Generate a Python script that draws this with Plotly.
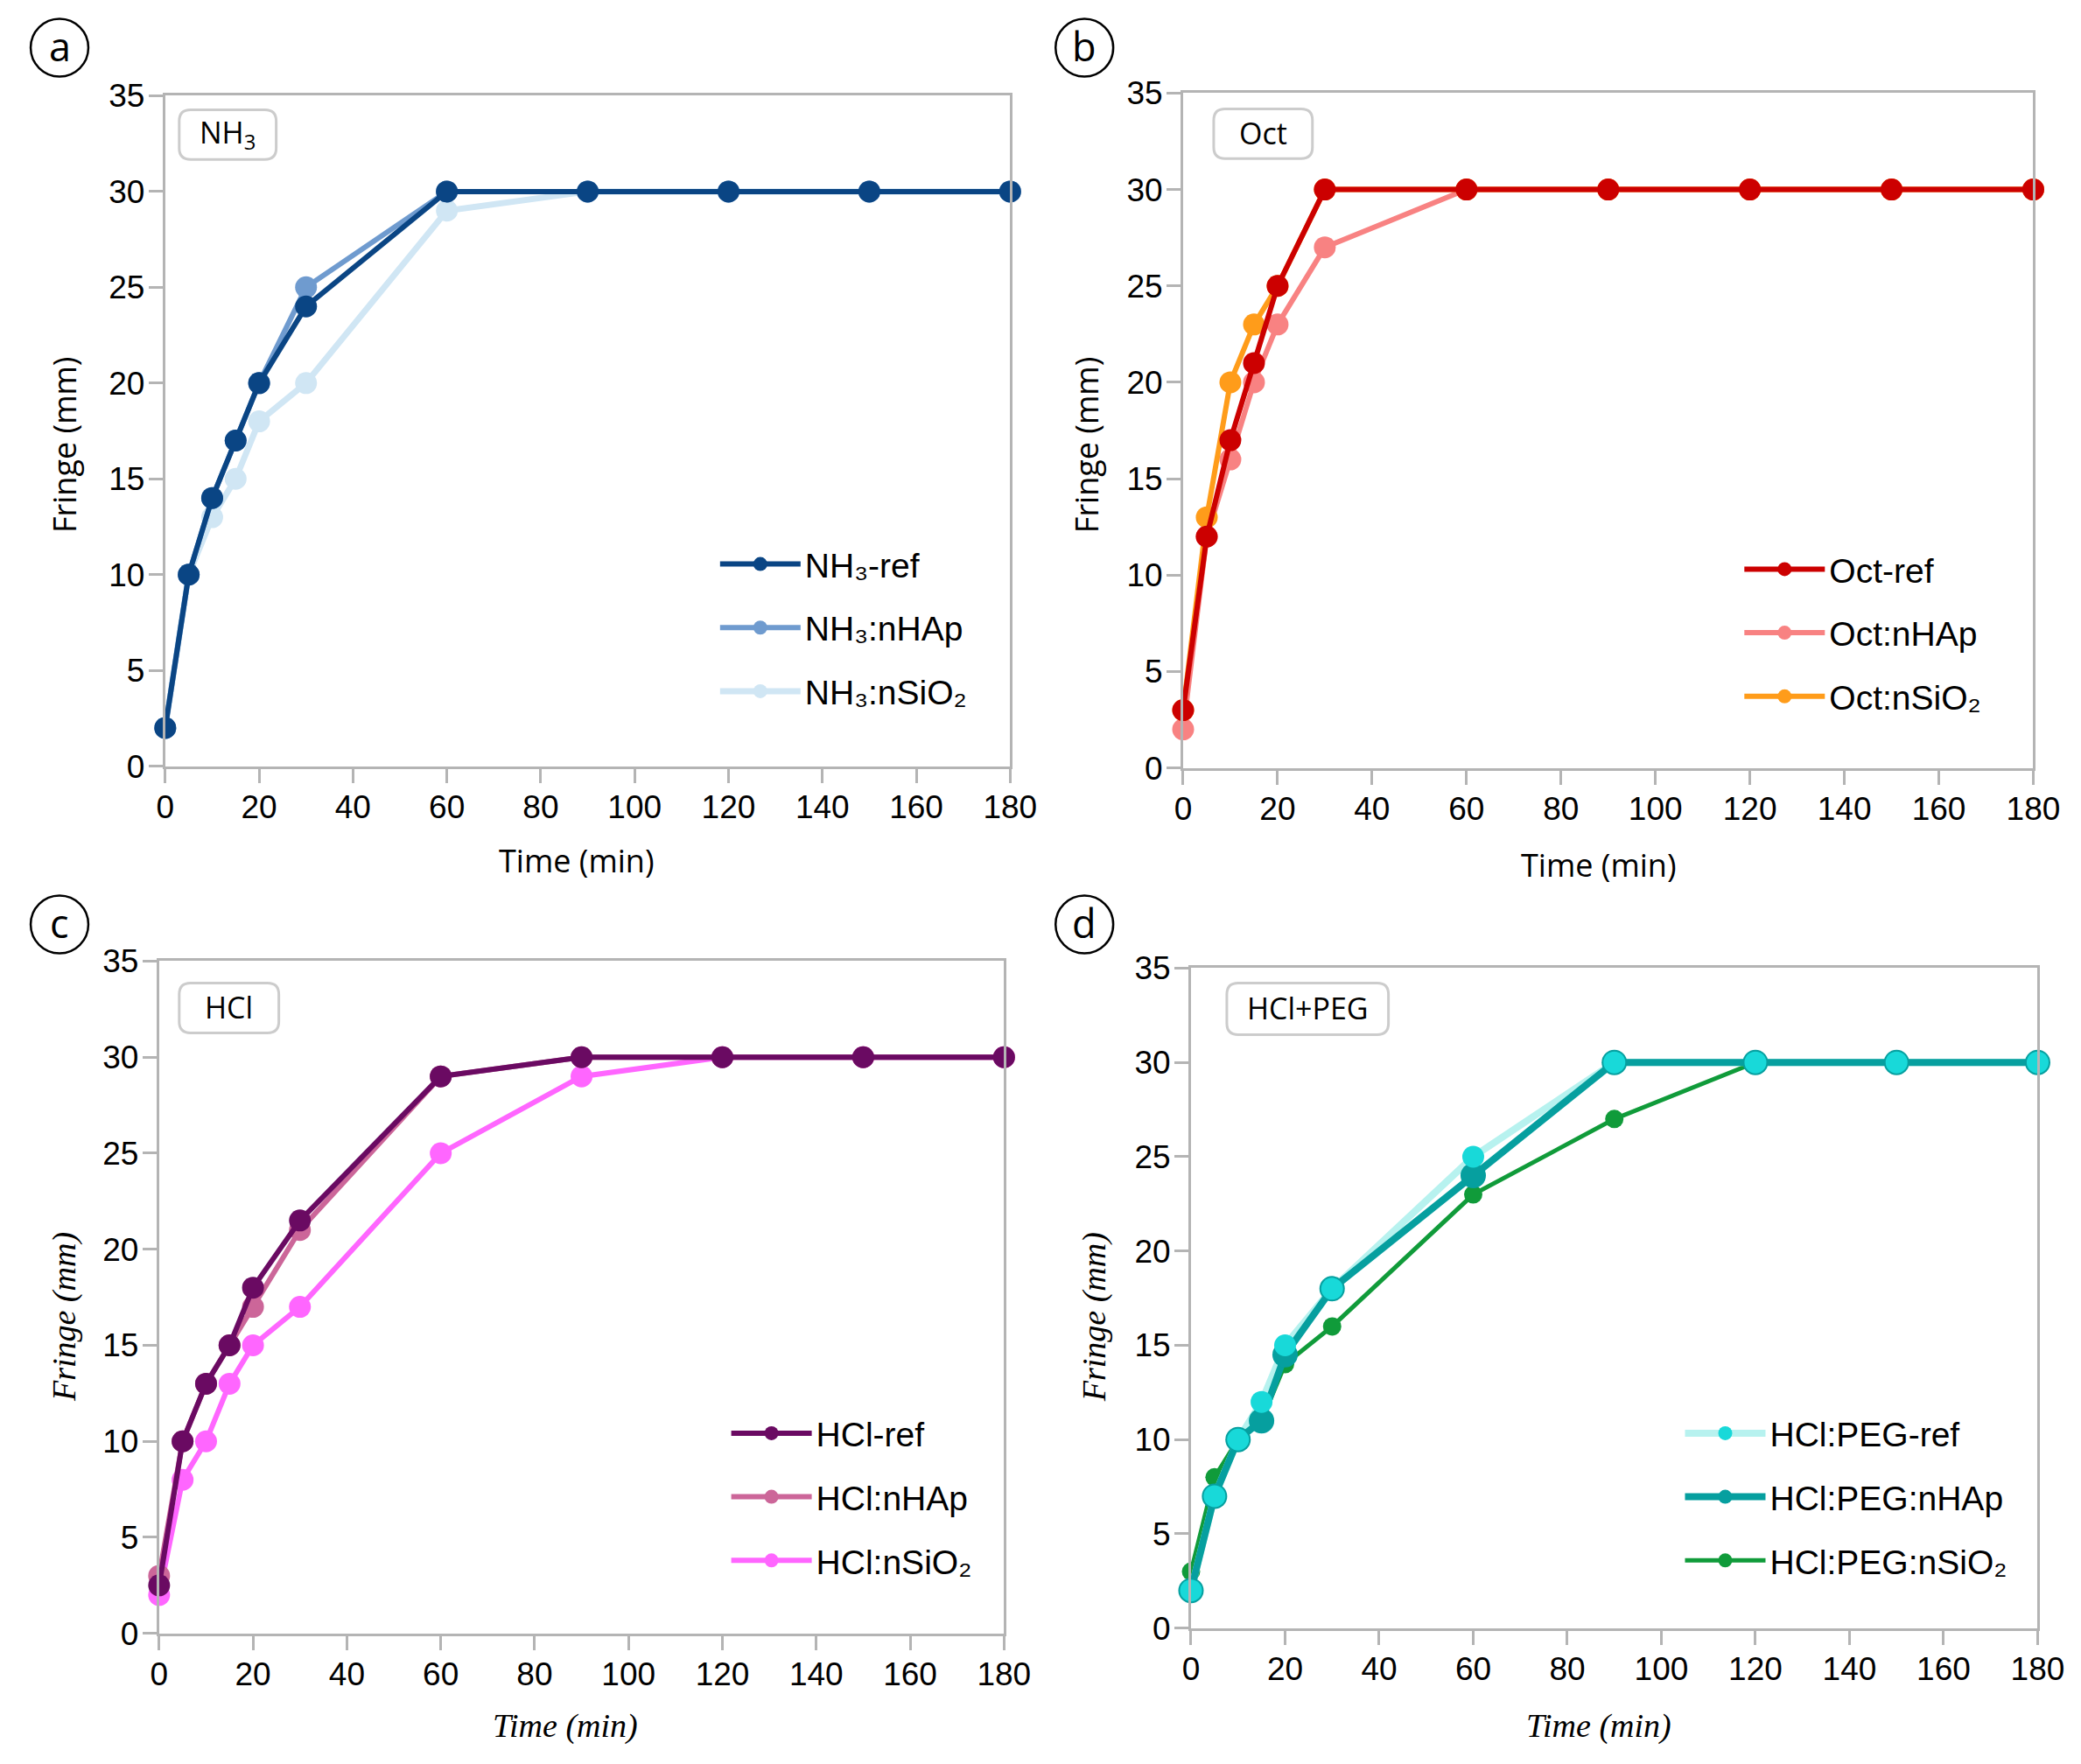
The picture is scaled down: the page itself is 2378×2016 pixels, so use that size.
import plotly.graph_objects as go

W, H = 2378, 2016

# ---------------- data ----------------
time_min = [0, 5, 10, 15, 20, 30, 60, 90, 120, 150, 180]
x_ticks = [0, 20, 40, 60, 80, 100, 120, 140, 160, 180]
y_ticks = [0, 5, 10, 15, 20, 25, 30, 35]

nh3_ref = [2, 10, 14, 17, 20, 24, 30, 30, 30, 30, 30]
nh3_nhap = [2, 10, 14, 17, 20, 25, 30, 30, 30, 30, 30]
nh3_nsio2 = [2, 10, 13, 15, 18, 20, 29, 30, 30, 30, 30]

oct_ref = [3, 12, 17, 21, 25, 30, 30, 30, 30, 30, 30]
oct_nhap = [2, 12, 16, 20, 23, 27, 30, 30, 30, 30, 30]
oct_nsio2 = [3, 13, 20, 23, 25, 30, 30, 30, 30, 30, 30]

hcl_ref = [2.5, 10, 13, 15, 18, 21.5, 29, 30, 30, 30, 30]
hcl_nhap = [3, 10, 13, 15, 17, 21, 29, 30, 30, 30, 30]
hcl_nsio2 = [2, 8, 10, 13, 15, 17, 25, 29, 30, 30, 30]

peg_ref = [2, 7, 10, 12, 15, 18, 25, 30, 30, 30, 30]
peg_nhap = [2, 7, 10, 11, 14.5, 18, 24, 30, 30, 30, 30]
peg_nsio2 = [3, 8, 10, 11, 14, 16, 23, 27, 30, 30, 30]

panel_letters = ["a", "b", "c", "d"]
panel_names = ["NH<sub>3</sub>", "Oct", "HCl", "HCl+PEG"]
x_title = "Time (min)"
y_title = "Fringe (mm)"

# ---------------- styling ----------------
SANS = "Liberation Sans, Arial, sans-serif"
OPEN = "Open Sans, Liberation Sans, sans-serif"
SERIF = "Liberation Serif, Times New Roman, serif"
AXC = "#b4b4b4"


# layout positions are measured on the target picture; map them to page pixels
def PX(v):
    return (v - 7.9) / 0.9843


def PY(v):
    return (v - 18.5) / 0.9806


def fx(v):
    return PX(v) / W


def fy(v):
    return 1 - PY(v) / H


fig = go.Figure()


def line_trace(x, y, name, color, lw, ms, xa, ya, leg, rank, mode="lines+markers",
               showlegend=True, mcolor=None):
    return go.Scatter(
        x=x, y=y, name=name, mode=mode,
        line=dict(color=color, width=lw),
        marker=dict(size=ms, color=mcolor or color), xaxis=xa, yaxis=ya, legend=leg,
        legendgroup=name, legendrank=rank, showlegend=showlegend,
        cliponaxis=False,
    )


# panel a (bottom -> top)
fig.add_trace(line_trace(time_min, nh3_nsio2, "NH₃:nSiO₂", "#d0e6f4", 7, 25, "x", "y", "legend", 3))
fig.add_trace(line_trace(time_min, nh3_nhap, "NH₃:nHAp", "#6f9bcf", 6, 25, "x", "y", "legend", 2))
fig.add_trace(line_trace(time_min, nh3_ref, "NH₃-ref", "#0a4584", 6, 25, "x", "y", "legend", 1))

# panel b
fig.add_trace(line_trace(time_min, oct_nhap, "Oct:nHAp", "#f88282", 6, 25, "x2", "y2", "legend2", 2))
fig.add_trace(line_trace(time_min, oct_nsio2, "Oct:nSiO₂", "#ff9c1a", 6, 25, "x2", "y2", "legend2", 3))
fig.add_trace(line_trace(time_min, oct_ref, "Oct-ref", "#cc0000", 6, 25, "x2", "y2", "legend2", 1))

# panel c
fig.add_trace(line_trace(time_min, hcl_nsio2, "HCl:nSiO₂", "#ff66ff", 6, 25, "x3", "y3", "legend3", 3))
fig.add_trace(line_trace(time_min, hcl_nhap, "HCl:nHAp", "#cc6699", 6, 25, "x3", "y3", "legend3", 2))
fig.add_trace(line_trace(time_min, hcl_ref, "HCl-ref", "#6a0a62", 6, 25, "x3", "y3", "legend3", 1))

# panel d
fig.add_trace(line_trace(time_min, peg_nsio2, "HCl:PEG:nSiO₂", "#109b3a", 5, 21, "x4", "y4", "legend4", 3))
fig.add_trace(line_trace(time_min, peg_ref, "ref-line", "#b7f2ef", 8, 0, "x4", "y4", "legend4", 9,
                         mode="lines", showlegend=False))
fig.add_trace(line_trace(time_min, peg_nhap, "HCl:PEG:nHAp", "#069f9f", 8, 29, "x4", "y4", "legend4", 2))
fig.add_trace(line_trace(time_min, peg_ref, "ref-markers", "#18d9d9", 8, 25, "x4", "y4", "legend4", 9,
                         mode="markers", showlegend=False))
# legend entry for the reference series (line + marker sample)
fig.add_trace(go.Scatter(x=[None], y=[None], name="HCl:PEG-ref", mode="lines+markers",
                         line=dict(color="#b7f2ef", width=8), marker=dict(size=25, color="#18d9d9"),
                         xaxis="x4", yaxis="y4", legend="legend4", legendgroup="HCl:PEG-ref",
                         legendrank=1))

# ---------------- axes ----------------
frames = [(187, 1154, 108, 875), (1352, 2325, 105, 877), (180, 1147, 1098, 1867), (1361, 2330, 1106, 1861)]


def axis_common():
    return dict(showline=True, mirror=True, linecolor=AXC, linewidth=3, ticks="outside",
                ticklen=16, tickwidth=3, tickcolor=AXC, showgrid=False, zeroline=False,
                tickfont=dict(family=SANS, size=37, color="black"), fixedrange=True)


layout = dict(width=W, height=H, margin=dict(l=0, r=0, t=0, b=0),
              paper_bgcolor="white", plot_bgcolor="white", showlegend=True)
for i, (l, r, t, b) in enumerate(frames):
    sfx = "" if i == 0 else str(i + 1)
    xa = axis_common()
    xa.update(domain=[fx(l), fx(r)], range=[0, 180], tickvals=x_ticks, anchor="y" + sfx,
              ticklabelstandoff=-4)
    ya = axis_common()
    ya.update(domain=[fy(b), fy(t)], range=[0, 35], tickvals=y_ticks, anchor="x" + sfx,
              ticklabelstandoff=-3)
    layout["xaxis" + sfx] = xa
    layout["yaxis" + sfx] = ya


def legend_cfg(x_px, y_px):
    return dict(x=x_px / W, y=1 - y_px / H, xanchor="left", yanchor="top",
                bgcolor="rgba(0,0,0,0)", borderwidth=0,
                font=dict(family=SANS, size=39, color="black"),
                traceorder="grouped", tracegroupgap=19, itemwidth=92, itemsizing="trace")


# (x, y) of legend box in page pixels
layout["legend"] = legend_cfg(822, 605)
layout["legend2"] = legend_cfg(2013, 611)
layout["legend3"] = legend_cfg(835, 1619)
layout["legend4"] = legend_cfg(1944, 1619)

# ---------------- annotations & shapes ----------------
annotations = []
shapes = []


def rounded_box(x0, y0, x1, y1, r=13):
    X = lambda v: fx(v)
    Y = lambda v: fy(v)
    p = (f"M {X(x0 + r)},{Y(y0)} L {X(x1 - r)},{Y(y0)} Q {X(x1)},{Y(y0)} {X(x1)},{Y(y0 + r)} "
         f"L {X(x1)},{Y(y1 - r)} Q {X(x1)},{Y(y1)} {X(x1 - r)},{Y(y1)} "
         f"L {X(x0 + r)},{Y(y1)} Q {X(x0)},{Y(y1)} {X(x0)},{Y(y1 - r)} "
         f"L {X(x0)},{Y(y0 + r)} Q {X(x0)},{Y(y0)} {X(x0 + r)},{Y(y0)} Z")
    return dict(type="path", path=p, xref="paper", yref="paper",
                line=dict(color="#cccccc", width=3), fillcolor="white", layer="below")


boxes = [(203, 124, 314, 181), (1387, 123, 1500, 180), (203, 1123, 317, 1180), (1402, 1123, 1587, 1182)]
for name, (x0, y0, x1, y1) in zip(panel_names, boxes):
    shapes.append(rounded_box(x0, y0, x1, y1))
    annotations.append(dict(text=name, x=fx((x0 + x1) / 2), y=fy((y0 + y1) / 2 - 1),
                            xref="paper", yref="paper", showarrow=False,
                            font=dict(family=OPEN, size=34, color="black"),
                            xanchor="center", yanchor="middle"))

circles = [(66, 53), (1239, 53), (66, 1056), (1239, 1056)]
for letter, (cx, cy) in zip(panel_letters, circles):
    rr = 33
    shapes.append(dict(type="circle", xref="paper", yref="paper",
                       x0=fx(cx - rr), x1=fx(cx + rr), y0=fy(cy + rr), y1=fy(cy - rr),
                       line=dict(color="black", width=2.5)))
    annotations.append(dict(text=letter, x=fx(cx), y=fy(cy - 2), xref="paper", yref="paper",
                            showarrow=False, font=dict(family=OPEN, size=45, color="black"),
                            xanchor="center", yanchor="middle"))

y_title_pos = [(71, 508, OPEN, False), (1241, 508, OPEN, False), (71, 1505, SERIF, True), (1250, 1505, SERIF, True)]
x_title_pos = [(658, 983, OPEN, False), (1828, 988, OPEN, False), (645, 1973, SERIF, True), (1828, 1973, SERIF, True)]
for (px, py, fam, it) in y_title_pos:
    txt = f"<i>{y_title}</i>" if it else y_title
    annotations.append(dict(text=txt, x=fx(px), y=fy(py), xref="paper", yref="paper",
                            showarrow=False, textangle=-90,
                            font=dict(family=fam, size=38 if it else 36, color="black"),
                            xanchor="center", yanchor="middle"))
for (px, py, fam, it) in x_title_pos:
    txt = f"<i>{x_title}</i>" if it else x_title
    annotations.append(dict(text=txt, x=fx(px), y=fy(py), xref="paper", yref="paper",
                            showarrow=False,
                            font=dict(family=fam, size=38 if it else 36, color="black"),
                            xanchor="center", yanchor="middle"))

layout["annotations"] = annotations
layout["shapes"] = shapes
fig.update_layout(**layout)

fig.write_html("out.html", config={"displayModeBar": False},
               post_script="document.body.style.margin='0px';")
